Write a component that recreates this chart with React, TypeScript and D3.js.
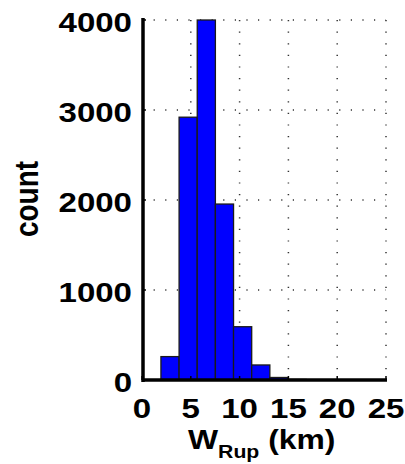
import React from "react";
import * as d3 from "d3";

const binEdges = [1.94, 3.8, 5.66, 7.52, 9.38, 11.24, 13.1, 14.96, 16.82, 18.68, 20.54];
const counts = [260, 2920, 4000, 1955, 592, 167, 28, 6, 2, 1];
const xTicks = [0, 5, 10, 15, 20, 25];
const yTicks = [0, 1000, 2000, 3000, 4000];

const W = 405;
const H = 464;
const margin = { left: 142, right: 19, top: 20, bottom: 84 };
const SX = 1.18;

export default function App() {
  const x = d3.scaleLinear().domain([0, 25]).range([margin.left, W - margin.right]);
  const y = d3.scaleLinear().domain([0, 4000]).range([H - margin.bottom, margin.top]);
  const font = "'Liberation Sans', Arial, Helvetica, sans-serif";
  const x0 = x(0);
  const y0 = y(0);
  const grid = "#333";
  return (
    <svg width={W} height={H} style={{ position: "absolute", left: 0, top: 0 }}>
      <rect width={W} height={H} fill="#fff" />
      {xTicks.slice(1).map((t) => (
        <line key={"gx" + t} x1={x(t)} x2={x(t)} y1={y(4000)} y2={y0} stroke={grid}
          strokeWidth={1.5} strokeDasharray="1.2 10.4" />
      ))}
      {yTicks.slice(1).map((t) => (
        <line key={"gy" + t} x1={x0} x2={x(25)} y1={y(t)} y2={y(t)} stroke={grid}
          strokeWidth={1.5} strokeDasharray="1.2 10.4" />
      ))}
      {counts.map((c, i) => (
        <rect key={i} x={x(binEdges[i])} y={y(c)} width={x(binEdges[i + 1]) - x(binEdges[i])}
          height={y0 - y(c)} fill="#0000ff" stroke="#1a1a1a" strokeWidth={1.3} />
      ))}
      <line x1={x0 + 1} x2={x0 + 1} y1={y(4000) - 2} y2={y0 + 2} stroke="#000" strokeWidth={3.5} />
      <line x1={x0} x2={x(25) + 1} y1={y0} y2={y0} stroke="#000" strokeWidth={3.5} />
      {xTicks.map((t) => (
        <line key={"tx" + t} x1={x(t)} x2={x(t)} y1={y0} y2={y0 - 4} stroke="#000" strokeWidth={1.5} />
      ))}
      {yTicks.map((t) => (
        <line key={"ty" + t} x1={x0} x2={x0 + 4} y1={y(t)} y2={y(t)} stroke="#000" strokeWidth={1.5} />
      ))}
      {yTicks.map((t) => (
        <text key={"ly" + t} transform={`translate(${x0 - 10},${y(t) + 12}) scale(${SX},1)`}
          textAnchor="end" fontFamily={font} fontWeight="bold" fontSize={28}>{t}</text>
      ))}
      {xTicks.map((t) => (
        <text key={"lx" + t} transform={`translate(${x(t)},${y0 + 38}) scale(${SX},1)`}
          textAnchor="middle" fontFamily={font} fontWeight="bold" fontSize={28}>{t}</text>
      ))}
      <text transform={`translate(38,199) rotate(-90) scale(1,${SX})`} textAnchor="middle" fontFamily={font}
        fontWeight="bold" fontSize={28}>count</text>
      <text transform={`translate(188,449) scale(${SX},1)`} fontFamily={font} fontWeight="bold" fontSize={27}>
        W<tspan fontSize={18} dy={9}>Rup</tspan><tspan dy={-9}> (km)</tspan>
      </text>
    </svg>
  );
}
